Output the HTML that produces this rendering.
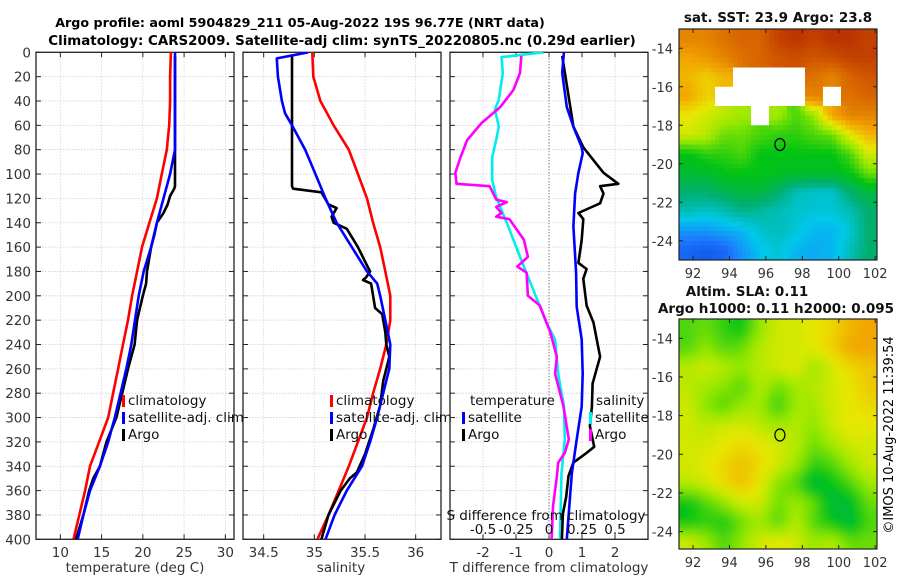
<!DOCTYPE html>
<html><head><meta charset="utf-8"><style>
html,body{margin:0;padding:0;background:#fff;}
svg{display:block;font-family:"DejaVu Sans","Liberation Sans",sans-serif;}
</style></head><body>
<svg id="chart" width="900" height="580" viewBox="0 0 900 580" xmlns="http://www.w3.org/2000/svg">
<defs>
<clipPath id="cp1"><rect x="36" y="52" width="198" height="487"/></clipPath>
<clipPath id="cp2"><rect x="243" y="52" width="198" height="487"/></clipPath>
<clipPath id="cp3"><rect x="450" y="52" width="198" height="487"/></clipPath>
<clipPath id="cpm1"><rect x="679" y="29" width="198" height="231"/></clipPath>
<clipPath id="cpm2"><rect x="679" y="319" width="198" height="230"/></clipPath>
<filter id="blur" x="-10%" y="-10%" width="120%" height="120%"><feGaussianBlur stdDeviation="5"/></filter>
</defs>
<g font-weight="bold" text-anchor="middle">
<text x="300" y="27" font-size="12.7">Argo profile: aoml 5904829_211 05-Aug-2022 19S 96.77E (NRT data)</text>
<text x="342" y="45" font-size="13.4">Climatology: CARS2009. Satellite-adj clim: synTS_20220805.nc (0.29d earlier)</text>
</g>
<g id="g1"></g>
<g id="g2"></g>
<g id="g3"></g>
<g id="gm1"></g>
<g id="gm2"></g>
<text x="0" y="0" font-size="13" text-anchor="middle" transform="translate(893,435) rotate(-90)">©IMOS 10-Aug-2022 11:39:54</text>
</svg>
<script>
// ---- profile data ----
const climDepth=[0,20,40,60,80,100,120,140,160,180,200,220,240,260,280,300,320,340,360,380,400];
const climT=[23.4,23.3,23.3,23.2,22.9,22.3,21.7,20.8,19.9,19.3,18.7,18.2,17.6,17.0,16.4,15.8,14.7,13.6,13.0,12.3,11.6];
const satTDepth=[0,80,90,100,120,140,160,180,200,240,260,280,300,320,340,360,380,400];
const satT=[23.9,23.9,23.6,23.3,22.5,21.7,21.0,20.1,19.5,18.6,18.0,17.3,16.6,15.8,14.8,13.6,12.8,12.1];
const argoTDepth=[3,110,112,118,125,132,140,150,160,180,190,200,220,240,260,280,300,320,340,350,360,380,400];
const argoT=[23.9,23.9,23.8,23.3,23.0,22.5,21.7,21.4,21.0,20.5,20.4,20.0,19.3,19.0,18.2,17.5,16.8,15.6,14.8,14.0,13.5,12.8,11.9];
const climS=[34.98,34.99,35.06,35.19,35.34,35.43,35.52,35.58,35.65,35.70,35.75,35.75,35.71,35.65,35.58,35.52,35.43,35.34,35.24,35.14,35.03];
const satSDepth=[0,5,20,40,50,60,80,100,120,140,160,180,190,200,220,240,260,280,300,320,340,360,380,400];
const satS=[34.94,34.63,34.64,34.68,34.71,34.78,34.91,35.01,35.11,35.22,35.37,35.52,35.62,35.65,35.70,35.75,35.74,35.68,35.62,35.55,35.47,35.32,35.20,35.11];
const argoSDepth=[3,110,112,115,125,128,135,140,145,160,175,180,185,187,190,200,210,215,230,240,250,260,270,290,310,330,345,350,360,380,400];
const argoS=[34.78,34.78,34.79,35.07,35.14,35.22,35.17,35.19,35.32,35.43,35.52,35.55,35.51,35.48,35.56,35.58,35.60,35.67,35.70,35.71,35.74,35.71,35.68,35.65,35.58,35.50,35.42,35.35,35.26,35.14,35.07];
// ---- difference data ----
const dTsatDepth=[0,17,45,61,78,83,99,116,143,181,209,236,264,291,318,346,400];
const dTsat=[0.45,0.40,0.54,0.74,0.99,1.02,0.89,0.79,0.74,0.82,0.84,0.99,1.02,0.99,0.84,0.69,0.54];
const dTargoDepth=[3,61,78,99,108,110,116,124,132,137,154,173,178,186,208,222,250,272,291,307,324,329,337,348,365,379,400];
const dTargo=[0.40,0.74,1.04,1.65,2.10,1.55,1.65,1.55,0.89,1.04,0.99,0.89,1.14,1.04,1.14,1.35,1.55,1.32,1.30,1.24,1.37,1.14,0.74,0.59,0.52,0.42,0.39];
const dSsatDepth=[0,4,17,39,47,61,72,86,105,119,140,168,195,222,236,264,291,318,346,400];
const dSsat=[-0.043,-0.36,-0.35,-0.38,-0.41,-0.38,-0.40,-0.43,-0.43,-0.40,-0.32,-0.22,-0.12,-0.02,0.046,0.07,0.114,0.12,0.095,0.083];
const dSargoDepth=[3,17,31,45,58,72,86,99,108,110,121,123,127,132,135,137,154,168,176,181,200,208,230,250,264,291,318,329,337,348,373,400];
const dSargo=[-0.21,-0.22,-0.27,-0.37,-0.51,-0.62,-0.67,-0.71,-0.70,-0.45,-0.40,-0.32,-0.40,-0.36,-0.40,-0.30,-0.19,-0.16,-0.24,-0.17,-0.16,-0.07,0.01,0.059,0.046,0.11,0.15,0.12,0.07,0.06,0.03,0.02];
// ---- ticks ----
const depthTicks=[0,20,40,60,80,100,120,140,160,180,200,220,240,260,280,300,320,340,360,380,400];
const tTicks=[10,15,20,25,30];
const sTicks=[34.5,35,35.5,36];
const dTTicks=[-2,-1,0,1,2];
const dSTicks=[-0.5,-0.25,0,0.25,0.5];
const dSTickLabels=["-0.5","-0.25","0","0.25","0.5"];
const lonTicks=[92,94,96,98,100,102];
const latTicks=[-14,-16,-18,-20,-22,-24];
// ---- map data (rows lat -13..-25, cols lon 91.2..102.1) ----
const sstGrid=[
[0.85,0.85,0.88,0.9,0.9,0.95,0.97,0.95,0.97,0.97,0.95],
[0.8,0.82,0.85,0.88,0.9,0.92,0.93,0.92,0.93,0.95,0.95],
[0.78,0.75,0.78,null,null,null,null,0.88,0.85,0.9,0.92],
[0.8,0.75,null,null,null,null,null,0.85,null,0.88,0.9],
[0.72,0.7,0.68,0.66,null,0.66,0.6,0.65,0.8,0.85,0.85],
[0.7,0.68,0.62,0.62,0.6,0.58,0.58,0.6,0.62,0.72,0.78],
[0.55,0.58,0.58,0.6,0.55,0.55,0.55,0.55,0.55,0.6,0.7],
[0.52,0.52,0.55,0.55,0.55,0.54,0.53,0.53,0.53,0.55,0.62],
[0.45,0.45,0.48,0.5,0.5,0.45,0.38,0.36,0.36,0.45,0.5],
[0.38,0.36,0.38,0.42,0.4,0.38,0.36,0.35,0.35,0.38,0.45],
[0.25,0.25,0.28,0.3,0.36,0.38,0.35,0.3,0.3,0.35,0.45],
[0.15,0.12,0.15,0.25,0.32,0.35,0.3,0.28,0.3,0.38,0.45]];
const slaGrid=[
[0.6,0.62,0.58,0.55,0.65,0.7,0.7,0.72,0.74,0.78,0.8],
[0.6,0.65,0.6,0.62,0.68,0.7,0.7,0.72,0.75,0.8,0.8],
[0.68,0.7,0.68,0.65,0.68,0.7,0.72,0.65,0.7,0.74,0.76],
[0.68,0.66,0.64,0.6,0.68,0.62,0.66,0.68,0.7,0.72,0.76],
[0.7,0.64,0.6,0.66,0.66,0.58,0.66,0.66,0.7,0.72,0.74],
[0.7,0.68,0.7,0.7,0.68,0.66,0.68,0.64,0.7,0.72,0.72],
[0.7,0.7,0.72,0.74,0.72,0.7,0.68,0.62,0.66,0.7,0.7],
[0.7,0.72,0.74,0.77,0.74,0.7,0.66,0.58,0.6,0.66,0.7],
[0.68,0.7,0.74,0.77,0.72,0.64,0.6,0.5,0.55,0.6,0.66],
[0.55,0.6,0.65,0.7,0.7,0.62,0.66,0.62,0.5,0.52,0.62],
[0.55,0.58,0.56,0.62,0.66,0.6,0.68,0.6,0.55,0.5,0.6],
[0.7,0.66,0.6,0.65,0.7,0.72,0.7,0.65,0.68,0.62,0.62]];
const argoLon=96.77, argoLat=-19;

const NS="http://www.w3.org/2000/svg";
function mk(tag,attrs,parent){const e=document.createElementNS(NS,tag);for(const k in attrs)e.setAttribute(k,attrs[k]);parent.appendChild(e);return e;}
const Y0=52.3,Y1=539.3;
const yD=d=>Y0+(d/400)*(Y1-Y0);
function xs(x0,w,min,max){return v=>x0+(v-min)/(max-min)*w;}

function panel(g,x0,xmin,xmax,ticks,labels,showY){
  const w=198,sx=xs(x0,w,xmin,xmax);
  ticks.forEach(t=>{const l=mk('line',{x1:sx(t),x2:sx(t),y1:Y0,y2:Y1,stroke:'#f0c8bc','stroke-width':0.8,'stroke-dasharray':'1.5,1.5'},g);
    });
  depthTicks.forEach(d=>{const l=mk('line',{x1:x0,x2:x0+w,y1:yD(d),y2:yD(d),stroke:'#c4ccf0','stroke-width':0.8,'stroke-dasharray':'1.5,1.5'},g);
    
    mk('line',{x1:x0,x2:x0+5,y1:yD(d),y2:yD(d),stroke:'#222'},g);
    mk('line',{x1:x0+w-5,x2:x0+w,y1:yD(d),y2:yD(d),stroke:'#222'},g);
    if(showY){const t=mk('text',{x:x0-5,y:yD(d)+5,'font-size':13.5,'text-anchor':'end',fill:'#333'},g);t.textContent=d;
      }
  });
  ticks.forEach((t,i)=>{mk('line',{x1:sx(t),x2:sx(t),y1:Y0,y2:Y0+5,stroke:'#222'},g);mk('line',{x1:sx(t),x2:sx(t),y1:Y1-5,y2:Y1,stroke:'#222'},g);
    if(labels){const tx=mk('text',{x:sx(t),y:557,'font-size':13.5,'text-anchor':'middle',fill:'#333'},g);tx.textContent=labels[i];
      }});
  const r=mk('rect',{x:x0,y:Y0,width:w,height:Y1-Y0,fill:'none',stroke:'#222','stroke-width':1.3},g);
  
  return sx;
}
function line(g,sx,vals,depths,color,clip,name){
  const pts=vals.map((v,i)=>sx(v).toFixed(1)+','+yD(depths[i]).toFixed(1)).join(' ');
  const p=mk('polyline',{points:pts,fill:'none',stroke:color,'stroke-width':2.6,'stroke-linejoin':'round','clip-path':'url(#'+clip+')'},g);
  
}
function txt(g,x,y,s,opts,name){const t=mk('text',Object.assign({x:x,y:y,'font-size':13.5,fill:'#111'},opts||{}),g);t.textContent=s;
  return t;}
function legendEntry(g,x,y,color,label){const r=mk('rect',{x:x,y:y-10,width:3,height:12,fill:color},g);
  
  txt(g,x+6,y,label,{},'legend-entry');}

// panel 1
const g1=document.getElementById('g1');
const sx1=panel(g1,36,7.05,31.05,tTicks,tTicks.map(String),true);
line(g1,sx1,climT,climDepth,'#f00','cp1','climatology-temperature-line');
line(g1,sx1,argoT,argoTDepth,'#000','cp1','argo-temperature-line');
line(g1,sx1,satT,satTDepth,'#00f','cp1','satellite-temperature-line');
legendEntry(g1,122,405,'#f00','climatology');legendEntry(g1,122,422,'#00f','satellite-adj. clim');legendEntry(g1,122,439,'#000','Argo');
txt(g1,135,572,'temperature (deg C)',{'text-anchor':'middle',fill:'#333'},'x-axis-title');

// panel 2
const g2=document.getElementById('g2');
const sx2=panel(g2,243,34.296,36.25,sTicks,sTicks.map(String),false);
line(g2,sx2,climS,climDepth,'#f00','cp2','climatology-salinity-line');
line(g2,sx2,argoS,argoSDepth,'#000','cp2','argo-salinity-line');
line(g2,sx2,satS,satSDepth,'#00f','cp2','satellite-salinity-line');
legendEntry(g2,330,405,'#f00','climatology');legendEntry(g2,330,422,'#00f','satellite-adj. clim');legendEntry(g2,330,439,'#000','Argo');
txt(g2,341,572,'salinity',{'text-anchor':'middle',fill:'#333'},'x-axis-title');

// panel 3
const g3=document.getElementById('g3');
const sx3=panel(g3,450,-3,3,dTTicks,dTTicks.map(String),false);
const sxS=xs(450,198,-0.75,0.75);
const z=mk('line',{x1:sx3(0),x2:sx3(0),y1:Y0,y2:Y1,stroke:'#555','stroke-width':1,'stroke-dasharray':'1,2'},g3);

line(g3,sxS,dSsat,dSsatDepth,'#0ee','cp3','satellite-salinity-diff-line');
line(g3,sxS,dSargo,dSargoDepth,'#f0f','cp3','argo-salinity-diff-line');
line(g3,sx3,dTargo,dTargoDepth,'#000','cp3','argo-temperature-diff-line');
line(g3,sx3,dTsat,dTsatDepth,'#00f','cp3','satellite-temperature-diff-line');
txt(g3,470,405,'temperature',{},'legend-title');
legendEntry(g3,462,422,'#00f','satellite');legendEntry(g3,462,439,'#000','Argo');
txt(g3,596,405,'salinity',{},'legend-title');
legendEntry(g3,589,422,'#0ee','satellite');legendEntry(g3,589,439,'#f0f','Argo');
txt(g3,546,520,'S difference from climatology',{'text-anchor':'middle'},'s-axis-title');
dSTicks.forEach((t,i)=>txt(g3,sxS(t),534,dSTickLabels[i],{'text-anchor':'middle'},'s-tick-label'));
txt(g3,549,572,'T difference from climatology',{'text-anchor':'middle',fill:'#333'},'x-axis-title');

// maps
function cmap(v){const st=[[0,[0,50,210]],[0.2,[30,120,255]],[0.33,[0,200,235]],[0.45,[0,175,110]],[0.55,[0,195,20]],[0.65,[150,232,0]],[0.72,[232,232,0]],[0.8,[242,165,0]],[0.9,[215,100,0]],[1,[175,30,0]]];
  v=Math.max(0,Math.min(1,v));for(let i=1;i<st.length;i++){if(v<=st[i][0]){const a=st[i-1],b=st[i],f=(v-a[0])/(b[0]-a[0]);
    return 'rgb('+a[1].map((c,k)=>Math.round(c+(b[1][k]-c)*f)).join(',')+')';}}return 'rgb(175,30,0)';}
function sample(grid,fr,fc){ // fr,fc in cell units (cell centers at i+0.5)
  const nr=grid.length,nc=grid[0].length;
  const ri=Math.min(nr-1,Math.max(0,Math.floor(fr))),ci=Math.min(nc-1,Math.max(0,Math.floor(fc)));
  if(grid[ri][ci]==null) return null;
  let r0=Math.floor(fr-0.5),c0=Math.floor(fc-0.5),tr=fr-0.5-r0,tc=fc-0.5-c0;
  const get=(r,c)=>{r=Math.min(nr-1,Math.max(0,r));c=Math.min(nc-1,Math.max(0,c));const v=grid[r][c];return v==null?grid[ri][ci]:v;};
  return get(r0,c0)*(1-tr)*(1-tc)+get(r0,c0+1)*(1-tr)*tc+get(r0+1,c0)*tr*(1-tc)+get(r0+1,c0+1)*tr*tc;
}
function map(g,y0,h,latMin,grid,clip,blur,title){
  const x0=679,w=198,lonMin=91.23,lonMax=102.1,latMax=-13;
  const sx=xs(x0,w,lonMin,lonMax),sy=lat=>y0+(latMax-lat)/(latMax-latMin)*h;
  const cells=mk('g',{'clip-path':'url(#'+clip+')'},g);
  const inner=mk('g',blur?{filter:'url(#blur)'}:{},cells);
  const nr=grid.length,nc=grid[0].length,cw=(lonMax-lonMin)/nc,S=4;
  for(let r=0;r<nr*S;r++)for(let c=0;c<nc*S;c++){
    const v=sample(grid,(r+0.5)/S,(c+0.5)/S);
    const lo=lonMin+c*cw/S,la=latMax-r/S;
    const pad=blur?10:0;
    const x=sx(lo)-(c==0?pad:0),y=sy(la)-(r==0?pad:0);
    const ww=sx(lo+cw/S)-sx(lo)+0.6+((c==0||c==nc*S-1)?pad:0),hh=sy(la-1/S)-sy(la)+0.6+((r==0||r==nr*S-1)?pad:0);
    const e=mk('rect',{x:x.toFixed(1),y:y.toFixed(1),width:ww.toFixed(1),height:hh.toFixed(1),fill:v==null?'#fff':cmap(v)},inner);
    }
  const ci=mk('ellipse',{cx:sx(argoLon),cy:sy(argoLat),rx:5,ry:6,fill:'none',stroke:'#000','stroke-width':1.2},g);
  
  lonTicks.forEach(t=>{mk('line',{x1:sx(t),x2:sx(t),y1:y0+h-4,y2:y0+h,stroke:'#222'},g);mk('line',{x1:sx(t),x2:sx(t),y1:y0,y2:y0+4,stroke:'#222'},g);
    txt(g,sx(t),y0+h+18,String(t),{'text-anchor':'middle',fill:'#333','font-size':13},'lon-tick-label');});
  latTicks.forEach(t=>{mk('line',{x1:x0,x2:x0+4,y1:sy(t),y2:sy(t),stroke:'#222'},g);mk('line',{x1:x0+w-4,x2:x0+w,y1:sy(t),y2:sy(t),stroke:'#222'},g);
    txt(g,x0-6,sy(t)+5,String(t),{'text-anchor':'end',fill:'#333','font-size':13},'lat-tick-label');});
  const fr=mk('rect',{x:x0,y:y0,width:w,height:h,fill:'none',stroke:'#222','stroke-width':1.2},g);
  
  title.forEach((s,i)=>txt(g,s[1],s[2],s[0],{'text-anchor':'middle','font-weight':'bold','font-size':13.5},'map-title'));
}
map(document.getElementById('gm1'),29,231,-25,sstGrid,'cpm1',false,[['sat. SST: 23.9 Argo: 23.8',778,22]]);
map(document.getElementById('gm2'),319,230,-24.9,slaGrid,'cpm2',true,[['Altim. SLA: 0.11',747,296],['Argo h1000: 0.11 h2000: 0.095',776,313]]);
</script>
</body></html>
